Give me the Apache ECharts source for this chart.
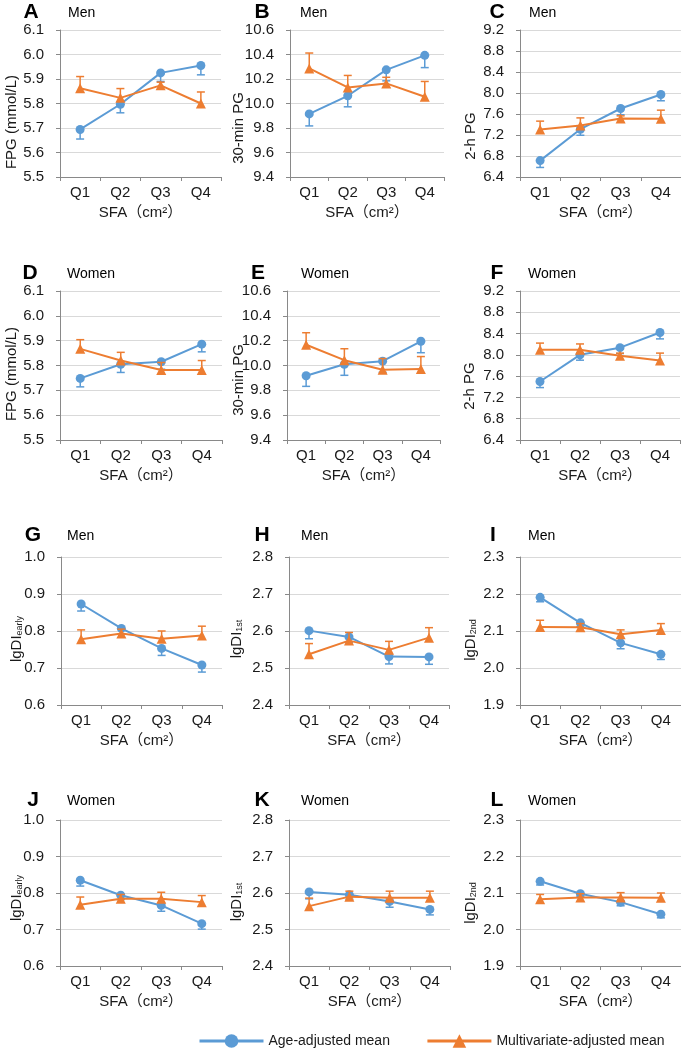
<!DOCTYPE html>
<html><head><meta charset="utf-8">
<script src="https://cdn.jsdelivr.net/npm/echarts@6/dist/echarts.min.js"></script>
<style>html,body{margin:0;padding:0;background:#fff}#c{width:681px;height:1050px}</style>
</head><body><div id="c"></div>
<script>
// ---------- data ----------
const categories = ['Q1', 'Q2', 'Q3', 'Q4'];
const seriesNames = ['Age-adjusted mean', 'Multivariate-adjusted mean'];
const panelLetters = ['A','B','C','D','E','F','G','H','I','J','K','L'];
const panelSex = ['Men','Men','Men','Women','Women','Women','Men','Men','Men','Women','Women','Women'];
const yTitleMain = ['FPG (mmol/L)','30-min PG','2-h PG','FPG (mmol/L)','30-min PG','2-h PG','lgDI','lgDI','lgDI','lgDI','lgDI','lgDI'];
const yTitleSub = ['','','','','','','early','1st','2nd','early','1st','2nd'];
const xTitle = 'SFA（cm²）';
const yMin = [5.5, 9.4, 6.4, 5.5, 9.4, 6.4, 0.6, 2.4, 1.9, 0.6, 2.4, 1.9];
const yMax = [6.1, 10.6, 9.2, 6.1, 10.6, 9.2, 1.0, 2.8, 2.3, 1.0, 2.8, 2.3];
const yStep = [0.1, 0.2, 0.4, 0.1, 0.2, 0.4, 0.1, 0.1, 0.1, 0.1, 0.1, 0.1];

const A_age = [5.694, 5.797, 5.925, 5.955];   const A_ageErr = [0.039, 0.035, 0.035, 0.038];
const A_multi = [5.862, 5.823, 5.874, 5.800]; const A_multiErr = [0.048, 0.038, 0.013, 0.047];
const B_age = [9.915, 10.063, 10.275, 10.393]; const B_ageErr = [0.098, 0.090, 0.090, 0.100];
const B_multi = [10.286, 10.131, 10.164, 10.055]; const B_multiErr = [0.126, 0.098, 0.050, 0.125];
const C_age = [6.712, 7.310, 7.705, 7.972];   const C_ageErr = [0.130, 0.115, 0.120, 0.120];
const C_multi = [7.304, 7.380, 7.514, 7.508]; const C_multiErr = [0.160, 0.146, 0.050, 0.165];
const D_age = [5.748, 5.805, 5.815, 5.886];   const D_ageErr = [0.034, 0.033, 0.030, 0.031];
const D_multi = [5.867, 5.820, 5.782, 5.782]; const D_multiErr = [0.037, 0.033, 0.030, 0.038];
const E_age = [9.917, 10.010, 10.035, 10.195]; const E_ageErr = [0.085, 0.089, 0.090, 0.092];
const E_multi = [10.167, 10.043, 9.966, 9.972]; const E_multiErr = [0.097, 0.092, 0.090, 0.100];
const F_age = [7.500, 8.000, 8.135, 8.420];   const F_ageErr = [0.115, 0.100, 0.110, 0.120];
const F_multi = [8.095, 8.095, 7.982, 7.895]; const F_multiErr = [0.126, 0.110, 0.050, 0.138];
const G_age = [0.873, 0.807, 0.753, 0.708];   const G_ageErr = [0.019, 0.015, 0.019, 0.019];
const G_multi = [0.778, 0.793, 0.779, 0.788]; const G_multiErr = [0.025, 0.012, 0.021, 0.025];
const H_age = [2.601, 2.584, 2.531, 2.530];   const H_ageErr = [0.022, 0.015, 0.020, 0.020];
const H_multi = [2.537, 2.574, 2.549, 2.582]; const H_multiErr = [0.029, 0.022, 0.023, 0.027];
const I_age = [2.191, 2.122, 2.068, 2.037];   const I_ageErr = [0.012, 0.010, 0.016, 0.014];
const I_multi = [2.111, 2.110, 2.091, 2.103]; const I_multiErr = [0.018, 0.010, 0.012, 0.017];
const J_age = [0.835, 0.794, 0.766, 0.716];   const J_ageErr = [0.016, 0.012, 0.016, 0.015];
const J_multi = [0.768, 0.784, 0.784, 0.775]; const J_multiErr = [0.021, 0.012, 0.018, 0.018];
const K_age = [2.603, 2.595, 2.577, 2.555];   const K_ageErr = [0.019, 0.012, 0.016, 0.015];
const K_multi = [2.564, 2.590, 2.587, 2.587]; const K_multiErr = [0.022, 0.015, 0.018, 0.018];
const L_age = [2.132, 2.098, 2.075, 2.042];   const L_ageErr = [0.010, 0.008, 0.010, 0.010];
const L_multi = [2.083, 2.088, 2.088, 2.087]; const L_multiErr = [0.013, 0.010, 0.013, 0.013];

const ageMeans = [A_age, B_age, C_age, D_age, E_age, F_age, G_age, H_age, I_age, J_age, K_age, L_age];
const ageErrs = [A_ageErr, B_ageErr, C_ageErr, D_ageErr, E_ageErr, F_ageErr, G_ageErr, H_ageErr, I_ageErr, J_ageErr, K_ageErr, L_ageErr];
const multiMeans = [A_multi, B_multi, C_multi, D_multi, E_multi, F_multi, G_multi, H_multi, I_multi, J_multi, K_multi, L_multi];
const multiErrs = [A_multiErr, B_multiErr, C_multiErr, D_multiErr, E_multiErr, F_multiErr, G_multiErr, H_multiErr, I_multiErr, J_multiErr, K_multiErr, L_multiErr];

// ---------- layout ----------
const gridL = [60, 290, 520, 60, 287, 520, 61, 289, 520, 60, 289, 520];
const gridR = [221, 444, 681, 222, 440, 680, 222, 449, 681, 222, 450, 681];
const gridT = [30, 30, 30, 291, 291, 291, 557, 557, 557, 820, 820, 820];
const gridB = [177, 177, 177, 440, 440, 440, 705, 705, 705, 966, 966, 966];
const letterX = [31, 262, 497, 30, 258, 497, 33, 262, 493, 33, 262, 497];
const letterY = [12, 12, 12, 273, 273, 273, 535, 535, 535, 800, 800, 800];
const sexX = [68, 300, 529, 67, 301, 528, 67, 301, 528, 67, 301, 528];
const yTitX = [10, 237, 469, 10, 237, 468, 15, 235, 469, 15, 235, 469];
const yTitY = [122, 128, 136, 374, 380, 386, 639, 639, 640, 898, 902, 903];

const BLUE = '#5B9BD5', ORANGE = '#ED7D31';
const FONT = '"Liberation Sans", Arial, "Noto Sans CJK SC", sans-serif';
const AXIS = '#898989', GRID = '#d9d9d9', TXT = '#1a1a1a';

const grids = [], xAxes = [], yAxes = [], series = [], graphics = [];

function errRender(color, dir) {
  return function (params, api) {
    const xi = api.value(0), v = api.value(1), e = api.value(2);
    const p0 = api.coord([xi, v]);
    const p1 = api.coord([xi, v + dir * e]);
    const hw = 4;
    return {
      type: 'group',
      children: [
        { type: 'line', shape: { x1: p0[0], y1: p0[1], x2: p1[0], y2: p1[1] }, style: { stroke: color, lineWidth: 1.5 } },
        { type: 'line', shape: { x1: p1[0] - hw, y1: p1[1], x2: p1[0] + hw, y2: p1[1] }, style: { stroke: color, lineWidth: 1.5 } }
      ]
    };
  };
}

for (let i = 0; i < 12; i++) {
  grids.push({ left: gridL[i], top: gridT[i], width: gridR[i] - gridL[i], height: gridB[i] - gridT[i] });
  xAxes.push({
    type: 'category', gridIndex: i, data: categories, boundaryGap: true,
    axisLine: { lineStyle: { color: AXIS, width: 1 } },
    axisTick: { show: true, length: 4, lineStyle: { color: AXIS } },
    axisLabel: { fontSize: 15, color: TXT, fontFamily: FONT, margin: 8 },
    name: xTitle, nameLocation: 'middle', nameGap: 28,
    nameTextStyle: { fontSize: 15, color: TXT, fontFamily: FONT }
  });
  yAxes.push({
    type: 'value', gridIndex: i, min: yMin[i], max: yMax[i], interval: yStep[i],
    axisLine: { show: true, lineStyle: { color: AXIS, width: 1 } },
    axisTick: { show: true, length: 4, lineStyle: { color: AXIS } },
    splitLine: { lineStyle: { color: GRID, width: 1 } },
    axisLabel: { fontSize: 15, color: TXT, fontFamily: FONT, margin: 16, formatter: v => v.toFixed(1) }
  });
  series.push({
    type: 'custom', name: 'ageErr' + i, xAxisIndex: i, yAxisIndex: i, z: 1,
    renderItem: errRender(BLUE, -1), silent: true,
    data: ageMeans[i].map((v, k) => [k, v, ageErrs[i][k]])
  });
  series.push({
    type: 'line', name: seriesNames[0], xAxisIndex: i, yAxisIndex: i, z: 2,
    data: ageMeans[i], symbol: 'circle', symbolSize: 9, color: BLUE,
    lineStyle: { color: BLUE, width: 2 }, itemStyle: { color: BLUE }
  });
  series.push({
    type: 'custom', name: 'multiErr' + i, xAxisIndex: i, yAxisIndex: i, z: 3,
    renderItem: errRender(ORANGE, 1), silent: true,
    data: multiMeans[i].map((v, k) => [k, v, multiErrs[i][k]])
  });
  series.push({
    type: 'line', name: seriesNames[1], xAxisIndex: i, yAxisIndex: i, z: 4,
    data: multiMeans[i], symbol: 'triangle', symbolSize: 10, color: ORANGE,
    lineStyle: { color: ORANGE, width: 2 }, itemStyle: { color: ORANGE }
  });

  graphics.push({
    type: 'text', x: letterX[i], y: letterY[i],
    style: { text: panelLetters[i], fontSize: 21, fontWeight: 'bold', fontFamily: FONT, fill: '#000', align: 'center', verticalAlign: 'middle' }
  });
  graphics.push({
    type: 'text', x: sexX[i], y: letterY[i] + 1,
    style: { text: panelSex[i], fontSize: 14, fontFamily: FONT, fill: '#000', align: 'left', verticalAlign: 'middle' }
  });
  const sub = yTitleSub[i];
  graphics.push({
    type: 'text', x: yTitX[i], y: yTitY[i], rotation: Math.PI / 2,
    style: {
      text: sub ? '{m|' + yTitleMain[i] + '}{s|' + sub + '}' : '{m|' + yTitleMain[i] + '}',
      rich: {
        m: { fontSize: 15, fontFamily: FONT, fill: TXT, color: TXT, lineHeight: 18, verticalAlign: 'bottom' },
        s: { fontSize: 9, fontFamily: FONT, fill: TXT, color: TXT, lineHeight: 18, verticalAlign: 'bottom' }
      },
      align: 'center', verticalAlign: 'middle'
    }
  });
}

const chart = echarts.init(document.getElementById('c'), null, { renderer: 'canvas' });
chart.setOption({
  animation: false,
  backgroundColor: '#fff',
  grid: grids, xAxis: xAxes, yAxis: yAxes, series: series,
  graphic: graphics,
  legend: {
    data: seriesNames,
    left: 193, top: 1029, itemWidth: 64, itemHeight: 17, itemGap: 36,
    lineStyle: { width: 3 },
    textStyle: { fontSize: 14, color: TXT, fontFamily: FONT }
  }
});
</script></body></html>
